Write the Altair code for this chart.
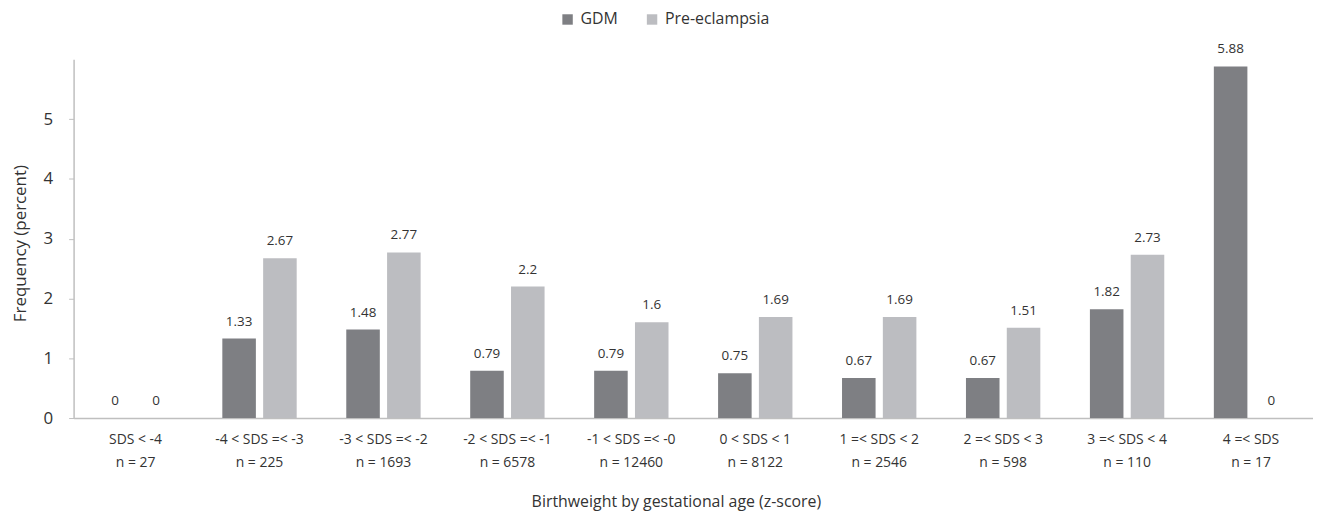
import altair as alt
import pandas as pd

categories = [
    "SDS < -4\nn = 27",
    "-4 < SDS =< -3\nn = 225",
    "-3 < SDS =< -2\nn = 1693",
    "-2 < SDS =< -1\nn = 6578",
    "-1 < SDS =< -0\nn = 12460",
    "0 < SDS < 1\nn = 8122",
    "1 =< SDS < 2\nn = 2546",
    "2 =< SDS < 3\nn = 598",
    "3 =< SDS < 4\nn = 110",
    "4 =< SDS\nn = 17",
]
series = ["GDM", "Pre-eclampsia"]
gdm = [0, 1.33, 1.48, 0.79, 0.79, 0.75, 0.67, 0.67, 1.82, 5.88]
pre = [0, 2.67, 2.77, 2.2, 1.6, 1.69, 1.69, 1.51, 2.73, 0]
colors = ["#7e7f83", "#bcbdc1"]

rows = []
for i, c in enumerate(categories):
    rows.append({"cat": c, "series": series[0], "value": gdm[i], "label": f"{gdm[i]:g}"})
    rows.append({"cat": c, "series": series[1], "value": pre[i], "label": f"{pre[i]:g}"})
df = pd.DataFrame(rows)

FONT = "Open Sans"
TXT = "#333333"

x = alt.X(
    "cat:N",
    sort=categories,
    scale=alt.Scale(paddingInner=0.4, paddingOuter=0.2),
    axis=alt.Axis(
        title="Birthweight by gestational age (z-score)",
        labelExpr="split(datum.label, '\\n')",
        labelAngle=0,
        labelFontSize=14,
        labelLineHeight=23,
        labelPadding=15,
        labelBaseline="top",
        labelColor=TXT,
        labelFont=FONT,
        ticks=False,
        domainColor="#bfbfbf",
        domainWidth=1.5,
        titleFontSize=16,
        titleFontWeight="normal",
        titleFont=FONT,
        titleColor=TXT,
        titleX=606,
        titleY=84,
        titleBaseline="middle",
    ),
)
xoff = alt.XOffset("series:N", sort=series, scale=alt.Scale(paddingInner=0.178, paddingOuter=0))
y = alt.Y(
    "value:Q",
    scale=alt.Scale(domain=[0, 6], nice=False),
    axis=alt.Axis(
        title="Frequency (percent)",
        values=[0, 1, 2, 3, 4, 5],
        grid=False,
        tickSize=5,
        tickColor="#bfbfbf",
        domainColor="#bfbfbf",
        domainWidth=1.5,
        labelFontSize=17,
        labelPadding=16,
        labelColor=TXT,
        labelFont=FONT,
        titleFontSize=17,
        titleFontWeight="normal",
        titleFont=FONT,
        titleColor=TXT,
        titleX=-53,
        titleY=185,
        titleAngle=-90,
        titleBaseline="middle",
        titleAlign="center",
    ),
)
color = alt.Color(
    "series:N",
    sort=series,
    scale=alt.Scale(domain=series, range=colors),
    legend=alt.Legend(
        title=None,
        orient="none",
        legendX=489,
        legendY=-48,
        direction="horizontal",
        symbolType="square",
        symbolSize=110,
        symbolStrokeWidth=0,
        labelFontSize=16,
        labelFont=FONT,
        labelColor=TXT,
        columnPadding=26,
        labelOffset=5,
    ),
)

base = alt.Chart(df).encode(x=x, xOffset=xoff, y=y)
bars = base.mark_bar().encode(color=color)
text = base.mark_text(dy=-10, baseline="bottom", fontSize=13.5, font=FONT, color=TXT).encode(text="label:N")

chart = (
    alt.layer(bars, text)
    .properties(
        width=1247,
        height=361,
        autosize=alt.AutoSizeParams(type="none"),
        padding={"left": 66, "top": 50, "right": 0, "bottom": 96},
    )
    .configure_view(stroke=None)
)

chart.save("out.html", embed_options={"renderer": "svg", "actions": False})
